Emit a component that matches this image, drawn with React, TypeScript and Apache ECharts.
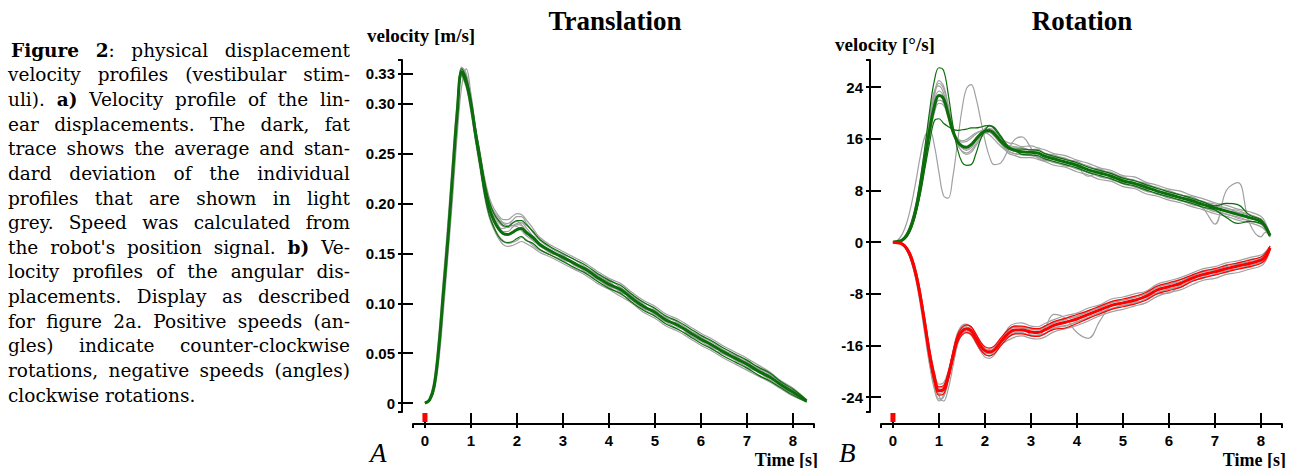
import React, { useEffect, useRef } from "react";
import * as echarts from "echarts";

// ---------- Data ----------
const xTicks = [0, 1, 2, 3, 4, 5, 6, 7, 8];
const yLeftTicks = [0, 0.05, 0.1, 0.15, 0.2, 0.25, 0.3, 0.33];
const yRightTicks = [-24, -16, -8, 0, 8, 16, 24];
const stimOnset = [0];

// Translation (m/s)
const tT = [0, 0.1, 0.2, 0.3, 0.4, 0.5, 0.6, 0.7, 0.8, 0.9, 1.0, 1.1, 1.2, 1.3, 1.4, 1.5, 1.6, 1.7, 1.8, 1.9, 2.0, 2.1, 2.2, 2.35, 2.5, 2.75, 3.0, 3.25, 3.5, 3.75, 4.0, 4.25, 4.5, 4.75, 5.0, 5.25, 5.5, 5.75, 6.0, 6.25, 6.5, 6.75, 7.0, 7.25, 7.5, 7.75, 8.0, 8.3];
const transMean = [0, 0.003, 0.017, 0.055, 0.11, 0.165, 0.228, 0.29, 0.332, 0.322, 0.3, 0.27, 0.243, 0.215, 0.195, 0.183, 0.175, 0.17, 0.169, 0.171, 0.174, 0.175, 0.171, 0.166, 0.159, 0.152, 0.146, 0.14, 0.134, 0.126, 0.119, 0.114, 0.105, 0.097, 0.091, 0.083, 0.078, 0.071, 0.064, 0.058, 0.051, 0.045, 0.039, 0.032, 0.026, 0.018, 0.011, 0.002];
const transUpper = [0, 0.004, 0.019, 0.058, 0.113, 0.168, 0.231, 0.293, 0.335, 0.326, 0.304, 0.275, 0.249, 0.222, 0.202, 0.19, 0.183, 0.178, 0.177, 0.18, 0.183, 0.183, 0.179, 0.172, 0.164, 0.156, 0.15, 0.144, 0.138, 0.13, 0.123, 0.118, 0.109, 0.101, 0.095, 0.087, 0.082, 0.075, 0.068, 0.062, 0.055, 0.049, 0.043, 0.036, 0.03, 0.021, 0.014, 0.003];
const transLower = [0, 0.002, 0.015, 0.052, 0.107, 0.162, 0.225, 0.287, 0.329, 0.318, 0.296, 0.265, 0.237, 0.208, 0.188, 0.176, 0.167, 0.162, 0.161, 0.162, 0.165, 0.167, 0.163, 0.16, 0.154, 0.148, 0.142, 0.136, 0.13, 0.122, 0.115, 0.11, 0.101, 0.093, 0.087, 0.079, 0.074, 0.067, 0.06, 0.054, 0.047, 0.041, 0.035, 0.028, 0.022, 0.015, 0.008, 0.001];
const transTrial1 = [0, 0.004, 0.019, 0.059, 0.114, 0.17, 0.233, 0.294, 0.336, 0.327, 0.303, 0.272, 0.247, 0.221, 0.203, 0.192, 0.186, 0.181, 0.18, 0.183, 0.187, 0.187, 0.181, 0.171, 0.163, 0.155, 0.149, 0.144, 0.136, 0.129, 0.124, 0.116, 0.108, 0.101, 0.094, 0.086, 0.081, 0.073, 0.067, 0.061, 0.053, 0.048, 0.042, 0.035, 0.029, 0.02, 0.013, 0.002];
const transTrial2 = [0, 0.002, 0.015, 0.051, 0.105, 0.16, 0.223, 0.286, 0.33, 0.319, 0.297, 0.266, 0.238, 0.21, 0.189, 0.177, 0.168, 0.163, 0.16, 0.161, 0.163, 0.166, 0.164, 0.158, 0.153, 0.148, 0.143, 0.135, 0.13, 0.124, 0.116, 0.109, 0.103, 0.094, 0.088, 0.081, 0.074, 0.068, 0.062, 0.054, 0.049, 0.043, 0.036, 0.031, 0.023, 0.016, 0.009, 0.001];
const transTrial3 = [0, 0.003, 0.018, 0.056, 0.111, 0.166, 0.229, 0.291, 0.333, 0.324, 0.301, 0.27, 0.244, 0.217, 0.197, 0.186, 0.178, 0.172, 0.172, 0.176, 0.179, 0.178, 0.173, 0.165, 0.157, 0.153, 0.144, 0.14, 0.134, 0.125, 0.12, 0.113, 0.104, 0.098, 0.09, 0.085, 0.076, 0.072, 0.063, 0.058, 0.05, 0.046, 0.038, 0.033, 0.025, 0.019, 0.01, 0.002];
const transTrial4 = [0, 0.002, 0.012, 0.042, 0.092, 0.148, 0.205, 0.268, 0.318, 0.335, 0.31, 0.276, 0.245, 0.214, 0.193, 0.182, 0.176, 0.175, 0.177, 0.181, 0.182, 0.179, 0.172, 0.163, 0.158, 0.15, 0.147, 0.138, 0.133, 0.127, 0.117, 0.113, 0.106, 0.095, 0.091, 0.082, 0.079, 0.069, 0.066, 0.056, 0.052, 0.044, 0.04, 0.032, 0.027, 0.017, 0.012, 0.002];
const transTrial5 = [0, 0.003, 0.017, 0.054, 0.109, 0.164, 0.227, 0.289, 0.331, 0.32, 0.298, 0.268, 0.242, 0.216, 0.198, 0.188, 0.181, 0.177, 0.176, 0.178, 0.18, 0.181, 0.176, 0.167, 0.16, 0.151, 0.147, 0.141, 0.131, 0.128, 0.121, 0.111, 0.107, 0.099, 0.089, 0.084, 0.078, 0.07, 0.065, 0.059, 0.05, 0.047, 0.04, 0.034, 0.027, 0.019, 0.011, 0.003];
const transTrial6 = [0, 0.004, 0.02, 0.06, 0.116, 0.172, 0.235, 0.296, 0.337, 0.33, 0.307, 0.277, 0.251, 0.225, 0.206, 0.195, 0.188, 0.184, 0.184, 0.187, 0.19, 0.189, 0.184, 0.175, 0.166, 0.158, 0.152, 0.146, 0.14, 0.132, 0.125, 0.12, 0.111, 0.103, 0.097, 0.089, 0.084, 0.077, 0.07, 0.064, 0.057, 0.051, 0.045, 0.038, 0.031, 0.022, 0.015, 0.003];
const transTrial7 = [0, 0.002, 0.014, 0.05, 0.103, 0.158, 0.221, 0.284, 0.327, 0.316, 0.293, 0.262, 0.234, 0.206, 0.186, 0.174, 0.165, 0.159, 0.157, 0.158, 0.16, 0.162, 0.16, 0.156, 0.151, 0.146, 0.14, 0.134, 0.128, 0.12, 0.114, 0.107, 0.1, 0.091, 0.085, 0.077, 0.072, 0.065, 0.058, 0.052, 0.045, 0.039, 0.033, 0.027, 0.021, 0.014, 0.007, 0.001];
const transTrial8 = [0, 0.005, 0.024, 0.068, 0.125, 0.182, 0.244, 0.302, 0.333, 0.318, 0.292, 0.264, 0.24, 0.217, 0.2, 0.19, 0.184, 0.18, 0.178, 0.178, 0.177, 0.173, 0.168, 0.163, 0.158, 0.15, 0.148, 0.139, 0.135, 0.126, 0.122, 0.112, 0.108, 0.096, 0.093, 0.082, 0.08, 0.068, 0.066, 0.055, 0.053, 0.043, 0.041, 0.031, 0.028, 0.017, 0.012, 0.002];

// Rotation (deg/s)
const tR = [0, 0.1, 0.2, 0.3, 0.4, 0.5, 0.6, 0.7, 0.8, 0.9, 1.0, 1.1, 1.2, 1.3, 1.4, 1.5, 1.6, 1.7, 1.8, 1.9, 2.0, 2.1, 2.2, 2.35, 2.5, 2.65, 2.8, 3.0, 3.15, 3.3, 3.5, 3.75, 4.0, 4.25, 4.5, 4.75, 5.0, 5.25, 5.5, 5.75, 6.0, 6.25, 6.5, 6.75, 7.0, 7.25, 7.5, 7.75, 8.0, 8.1, 8.2];
const ccwMean = [0, 0.1, 0.3, 1.0, 2.5, 5.0, 8.7, 13.0, 17.5, 21.0, 22.7, 22.2, 19.8, 17.2, 15.6, 14.9, 14.7, 15.1, 15.9, 16.7, 17.2, 17.3, 16.8, 15.6, 14.6, 14.2, 14.0, 13.9, 13.8, 13.3, 12.9, 12.4, 11.9, 11.2, 10.7, 10.2, 9.5, 9.1, 8.5, 7.9, 7.4, 6.9, 6.4, 5.8, 5.3, 4.8, 4.3, 3.8, 3.2, 2.4, 1.0];
const ccwHigh = [0, 0.1, 0.4, 1.3, 3.0, 5.8, 10.0, 15.0, 20.5, 25.0, 27.0, 26.6, 23.0, 18.2, 14.5, 12.4, 11.9, 12.0, 13.6, 15.8, 17.3, 18.0, 17.8, 16.4, 14.9, 14.4, 14.4, 14.3, 14.2, 13.7, 13.3, 12.8, 12.3, 11.6, 11.1, 10.6, 9.9, 9.5, 8.9, 8.3, 7.8, 7.3, 6.8, 6.2, 5.6, 6.0, 5.8, 4.2, 3.5, 2.6, 1.1];
const ccwLow = [0, 0.1, 0.3, 0.9, 2.2, 4.5, 7.6, 11.6, 15.5, 18.8, 19.1, 18.4, 17.9, 17.5, 17.3, 17.4, 17.5, 17.7, 17.7, 17.8, 18.0, 18.1, 17.6, 16.2, 14.8, 14.2, 13.6, 13.5, 13.4, 12.9, 12.5, 12.0, 11.5, 10.8, 10.3, 9.8, 9.1, 8.7, 8.1, 7.5, 7.0, 6.5, 6.0, 5.4, 5.0, 3.8, 2.9, 3.2, 2.9, 2.2, 0.9];
const ccwTrial1 = [0, 0.1, 0.4, 1.2, 2.8, 5.5, 9.5, 14.2, 19.0, 23.0, 25.0, 24.2, 21.3, 18.0, 15.8, 14.6, 14.2, 14.6, 15.6, 16.7, 17.6, 18.0, 17.5, 16.1, 15.4, 15.2, 14.8, 14.9, 14.6, 14.3, 13.7, 13.4, 12.7, 12.2, 11.5, 11.1, 10.3, 10.1, 9.3, 8.8, 8.2, 7.9, 7.2, 6.7, 6.1, 5.7, 5.1, 4.7, 4.0, 3.0, 1.2];
const ccwTrial2 = [0, 0.1, 0.3, 0.9, 2.3, 4.7, 8.3, 12.6, 17.0, 20.4, 22.0, 21.6, 19.5, 17.0, 15.4, 14.6, 14.4, 14.9, 15.7, 16.4, 16.9, 17.0, 16.5, 15.3, 13.8, 13.4, 13.1, 13.1, 12.8, 12.5, 11.9, 11.6, 10.9, 10.4, 9.7, 9.4, 8.6, 8.3, 7.5, 7.1, 6.5, 6.1, 5.5, 5.0, 4.4, 4.0, 3.4, 3.0, 2.4, 1.8, 0.8];
const ccwTrial3 = [0, 0.2, 0.5, 1.4, 3.2, 6.0, 10.0, 14.8, 19.6, 23.4, 24.2, 23.1, 20.4, 17.3, 15.1, 14.1, 13.8, 14.2, 15.2, 16.3, 17.2, 17.6, 17.2, 15.9, 15.0, 14.8, 14.6, 14.3, 14.4, 13.7, 13.5, 12.8, 12.5, 11.6, 11.3, 10.6, 10.1, 9.5, 9.1, 8.3, 8.0, 7.3, 7.0, 6.2, 5.9, 5.2, 4.9, 4.2, 3.6, 2.7, 1.1];
const ccwTrial4 = [0, 0.1, 0.3, 1.0, 2.6, 5.2, 9.0, 13.6, 18.3, 22.0, 23.4, 22.6, 20.0, 17.4, 16.0, 15.5, 15.6, 16.1, 16.7, 17.2, 17.4, 17.1, 16.4, 15.2, 14.2, 13.7, 13.6, 13.5, 13.2, 12.9, 12.3, 12.0, 11.3, 10.8, 10.1, 9.7, 9.0, 8.6, 7.9, 7.5, 6.8, 6.5, 5.8, 5.4, 4.7, 4.4, 3.7, 3.3, 2.8, 2.0, 0.9];
const ccwTrial5 = [0, 0.1, 0.3, 1.1, 2.7, 5.4, 9.2, 13.9, 18.7, 22.5, 24.6, 23.8, 20.9, 17.6, 15.3, 14.0, 13.6, 13.9, 14.9, 16.0, 16.8, 17.2, 16.9, 15.8, 14.9, 14.6, 14.6, 14.2, 14.3, 13.8, 13.2, 12.9, 12.3, 11.8, 11.0, 10.8, 9.9, 9.6, 8.8, 8.5, 7.7, 7.4, 6.7, 6.3, 5.6, 5.3, 4.6, 4.3, 3.5, 2.6, 1.1];
const ccwTrial6 = [0, 0.1, 0.2, 0.8, 2.1, 4.4, 7.9, 12.2, 16.6, 20.0, 21.5, 21.2, 19.4, 17.3, 16.1, 15.7, 15.9, 16.4, 16.9, 17.1, 17.0, 16.6, 15.9, 14.8, 14.0, 13.7, 13.5, 13.4, 13.1, 12.7, 12.4, 11.8, 11.5, 10.7, 10.3, 9.7, 9.2, 8.6, 8.1, 7.4, 7.1, 6.4, 6.1, 5.3, 4.9, 4.3, 3.9, 3.3, 2.8, 2.1, 0.8];
const ccwOutlier = [0, 0.3, 1.2, 3.0, 5.8, 9.5, 13.5, 16.5, 17.3, 15.0, 10.8, 7.2, 6.8, 10.0, 15.2, 20.5, 23.8, 24.4, 22.5, 19.2, 15.8, 13.2, 12.0, 12.3, 14.2, 15.9, 16.3, 14.6, 13.0, 12.6, 13.2, 13.0, 11.8, 10.2, 10.8, 10.0, 9.6, 8.9, 8.6, 7.8, 7.4, 6.8, 6.5, 5.2, 2.8, 8.0, 9.2, 3.0, 0.8, 1.5, 1.2];

const cwMean = [0, -0.1, -0.3, -1.0, -2.5, -5.0, -8.6, -13.0, -17.5, -21.0, -23.0, -22.8, -20.8, -17.8, -15.0, -13.8, -13.4, -13.7, -14.8, -16.0, -16.8, -17.0, -16.7, -15.4, -14.2, -13.6, -13.6, -13.9, -14.0, -13.6, -12.9, -12.4, -11.9, -11.2, -10.5, -9.8, -9.4, -9.0, -8.4, -7.4, -6.9, -6.4, -5.6, -5.0, -4.6, -4.1, -3.7, -3.3, -2.8, -2.2, -0.9];
const cwUpper = [0, -0.1, -0.2, -0.8, -2.1, -4.5, -8.0, -12.3, -16.8, -20.3, -22.4, -22.2, -20.2, -17.2, -14.4, -13.2, -12.8, -13.1, -14.2, -15.4, -16.2, -16.4, -16.1, -14.8, -13.6, -13.0, -13.0, -13.3, -13.4, -13.0, -12.3, -11.8, -11.2, -10.6, -9.9, -9.2, -8.8, -8.4, -7.8, -6.8, -6.3, -5.8, -5.1, -4.5, -4.1, -3.6, -3.2, -2.8, -2.3, -1.7, -0.6];
const cwLower = [0, -0.1, -0.4, -1.2, -2.9, -5.5, -9.2, -13.7, -18.2, -21.7, -23.7, -23.5, -21.4, -18.4, -15.6, -14.4, -14.0, -14.3, -15.4, -16.6, -17.4, -17.6, -17.3, -16.0, -14.8, -14.2, -14.2, -14.5, -14.6, -14.2, -13.5, -13.3, -12.6, -11.8, -11.1, -10.4, -10.0, -9.6, -9.0, -8.0, -7.5, -7.0, -6.1, -5.5, -5.1, -4.6, -4.2, -3.8, -3.3, -2.7, -1.2];
const cwTrial1 = [0, -0.1, -0.4, -1.2, -3.0, -5.7, -9.6, -14.2, -18.8, -22.4, -24.3, -24.0, -21.6, -18.2, -15.2, -13.6, -12.9, -13.1, -14.1, -15.4, -16.5, -17.0, -16.8, -15.6, -13.3, -12.6, -12.5, -13.0, -13.1, -12.6, -12.0, -11.4, -11.0, -10.2, -9.7, -8.8, -8.5, -8.0, -7.6, -6.5, -6.0, -5.5, -4.8, -4.1, -3.8, -3.2, -2.9, -2.4, -2.0, -1.5, -0.6];
const cwTrial2 = [0, -0.1, -0.2, -0.8, -2.0, -4.3, -7.7, -12.0, -16.5, -20.0, -22.0, -21.8, -20.0, -17.2, -14.7, -13.6, -13.5, -14.1, -15.4, -16.8, -17.8, -18.0, -17.5, -15.9, -15.2, -14.7, -14.5, -14.9, -15.0, -14.7, -13.9, -13.4, -12.9, -12.2, -11.4, -10.8, -10.4, -9.9, -9.4, -8.4, -7.8, -7.4, -6.6, -5.9, -5.6, -5.0, -4.7, -4.2, -3.7, -3.0, -1.2];
const cwTrial3 = [0, -0.1, -0.3, -1.1, -2.7, -5.3, -9.0, -13.5, -18.0, -21.6, -23.5, -23.0, -20.6, -17.3, -14.6, -13.3, -13.1, -13.6, -14.9, -16.2, -17.1, -17.3, -16.9, -15.5, -13.7, -13.0, -13.2, -13.3, -13.6, -13.0, -12.5, -11.8, -11.5, -10.6, -10.1, -9.2, -9.0, -8.4, -8.0, -6.8, -6.5, -5.8, -5.2, -4.4, -4.2, -3.5, -3.3, -2.7, -2.4, -1.7, -0.7];
const cwTrial4 = [0, -0.1, -0.3, -1.0, -2.4, -4.9, -8.4, -12.8, -17.4, -21.2, -23.8, -24.6, -22.8, -19.4, -16.0, -14.2, -13.8, -14.2, -15.0, -16.0, -16.6, -16.8, -16.5, -15.3, -14.7, -14.2, -14.0, -14.5, -14.4, -14.2, -13.3, -13.0, -12.3, -11.8, -10.9, -10.4, -9.8, -9.6, -8.8, -8.0, -7.3, -7.0, -6.0, -5.6, -5.0, -4.7, -4.1, -3.9, -3.2, -2.6, -1.0];
const cwTrial5 = [0, -0.1, -0.3, -0.9, -2.3, -4.7, -8.1, -12.5, -17.0, -20.6, -22.6, -22.4, -20.4, -17.6, -15.1, -14.0, -13.9, -14.4, -15.6, -16.7, -17.2, -17.2, -16.8, -15.6, -14.6, -14.0, -14.1, -14.4, -14.4, -14.1, -13.3, -12.9, -12.4, -11.6, -10.9, -10.3, -9.8, -9.4, -8.9, -7.8, -7.3, -6.8, -6.0, -5.4, -5.0, -4.4, -4.1, -3.6, -3.1, -2.4, -1.0];
const cwTrial6 = [0, -0.1, -0.4, -1.3, -3.1, -5.9, -9.9, -14.6, -19.2, -22.8, -24.6, -23.7, -20.8, -17.0, -14.1, -12.9, -12.7, -13.4, -14.6, -15.8, -16.5, -16.6, -16.2, -15.0, -13.8, -13.2, -13.3, -13.5, -13.6, -13.2, -12.5, -12.0, -11.5, -10.8, -10.1, -9.4, -9.0, -8.6, -8.0, -7.0, -6.5, -6.1, -5.3, -4.6, -4.3, -3.8, -3.4, -3.0, -2.6, -2.0, -0.8];
const cwOutlier = [0, -0.1, -0.3, -1.1, -2.6, -5.1, -8.8, -13.2, -17.8, -21.3, -23.2, -23.0, -21.0, -18.0, -15.2, -13.9, -13.6, -14.0, -15.2, -16.5, -17.4, -17.6, -17.0, -15.2, -13.6, -13.0, -13.1, -14.4, -14.6, -13.4, -11.2, -11.8, -14.0, -14.9, -12.2, -9.8, -9.4, -9.3, -8.2, -8.0, -7.9, -6.5, -5.3, -5.2, -4.4, -4.2, -3.5, -3.4, -2.7, -2.1, -0.9];

const captionLines = [
  "**Figure 2**: physical displacement",
  "velocity profiles (vestibular stim-",
  "uli). **a)** Velocity profile of the lin-",
  "ear displacements. The dark, fat",
  "trace shows the average and stan-",
  "dard deviation of the individual",
  "profiles that are shown in light",
  "grey. Speed was calculated from",
  "the robot's position signal. **b)** Ve-",
  "locity profiles of the angular dis-",
  "placements. Display as described",
  "for figure 2a. Positive speeds (an-",
  "gles) indicate counter-clockwise",
  "rotations, negative speeds (angles)",
  "clockwise rotations.",
];

// ---------- Styling / layout ----------
const X_MIN = -0.26, X_MAX = 8.46;
const YL_MIN = -0.009, YL_MAX = 0.344;
const YR_MIN = -26.3, YR_MAX = 28.2;
const GREEN = "#0b6e0b";
const GREY = "#a0a0a0";
const RED = "#ff0000";
const SANS = '"Liberation Sans", Arial, sans-serif';
const SERIF = '"Liberation Serif", "Times New Roman", serif';
const CAP_FONT = '"DejaVu Serif", serif';

const lineStyleAxis = { color: "#000", width: 2 };

function mainX(grid: number) {
  return {
    type: "value", gridIndex: grid, min: X_MIN, max: X_MAX, position: "bottom", offset: 12,
    axisLine: { show: true, onZero: false, lineStyle: lineStyleAxis },
    axisTick: { show: true, inside: true, length: 11, customValues: xTicks, lineStyle: lineStyleAxis },
    axisLabel: { show: true, customValues: xTicks, margin: 9, color: "#000", fontFamily: SANS, fontWeight: "bold", fontSize: 15, formatter: (v: number) => String(v) },
    splitLine: { show: false },
  };
}
function overlayX(grid: number) {
  return {
    type: "value", gridIndex: grid, min: X_MIN, max: X_MAX, position: "bottom", offset: 12,
    axisLine: { show: false, onZero: false },
    axisTick: { show: true, inside: false, length: 4, customValues: [X_MIN, ...xTicks, X_MAX], lineStyle: lineStyleAxis },
    axisLabel: { show: false },
    splitLine: { show: false },
  };
}
function mainY(grid: number, min: number, max: number, ticks: number[], fmt: (v: number) => string) {
  return {
    type: "value", gridIndex: grid, min, max, position: "left", offset: 11,
    axisLine: { show: true, onZero: false, lineStyle: lineStyleAxis },
    axisTick: { show: true, inside: true, length: 11, customValues: ticks, lineStyle: lineStyleAxis },
    axisLabel: { show: true, customValues: ticks, margin: 7, color: "#000", fontFamily: SANS, fontWeight: "bold", fontSize: 15, formatter: fmt },
    splitLine: { show: false },
  };
}
function overlayY(grid: number, min: number, max: number, ticks: number[]) {
  return {
    type: "value", gridIndex: grid, min, max, position: "left", offset: 11,
    axisLine: { show: false, onZero: false },
    axisTick: { show: true, inside: false, length: 4, customValues: [min, ...ticks, max], lineStyle: lineStyleAxis },
    axisLabel: { show: false },
    splitLine: { show: false },
  };
}

function line(axis: number, t: number[], vals: number[], color: string, width: number, z: number) {
  return {
    type: "line", xAxisIndex: axis, yAxisIndex: axis,
    data: t.map((tt, i) => [tt, vals[i]]),
    showSymbol: false, symbol: "none", smooth: 0.4,
    lineStyle: { color, width }, silent: true, z, animation: false,
  };
}

function marker(axis: number, yMin: number) {
  return {
    type: "custom", xAxisIndex: axis, yAxisIndex: axis, clip: false, silent: true, z: 10,
    data: stimOnset.map((t) => [t, yMin]),
    renderItem: (_p: any, api: any) => {
      const p = api.coord([api.value(0), api.value(1)]);
      return { type: "rect", shape: { x: p[0] - 2.5, y: p[1] + 1, width: 5, height: 9 }, style: { fill: RED } };
    },
  };
}

function txt(text: string, x: number, y: number, font: string, align = "left") {
  return {
    type: "text", x, y, silent: true,
    style: { text, font, fill: "#000", textAlign: align, align, textVerticalAlign: "middle", verticalAlign: "middle" },
  };
}

function captionGraphics() {
  const canvas = document.createElement("canvas");
  const ctx = canvas.getContext("2d")!;
  const size = 18.5, right = 350, base0 = 56.5, lh = 24.64;
  const font = (b: boolean) => `${b ? "bold " : ""}${size}px ${CAP_FONT}`;
  const els: any[] = [];
  let bold = false;
  captionLines.forEach((ln, li) => {
    const words = ln.split(" ").map((w) => {
      const parts = w.split("**");
      const segs: { text: string; bold: boolean }[] = [];
      parts.forEach((p, k) => { if (k > 0) bold = !bold; if (p) segs.push({ text: p, bold }); });
      return segs;
    });
    const widths = words.map((segs) => segs.map((s) => { ctx.font = font(s.bold); return ctx.measureText(s.text).width; }));
    const wordW = widths.map((ws) => ws.reduce((a, b) => a + b, 0));
    const total = wordW.reduce((a, b) => a + b, 0);
    const left = li === 0 ? 11 : 8;
    ctx.font = font(false);
    const space = ctx.measureText(" ").width;
    const last = li === captionLines.length - 1;
    const gap = last || words.length < 2 ? space : (right - left - total) / (words.length - 1);
    const y = base0 + li * lh - 0.34 * size;
    let x = left;
    words.forEach((segs, wi) => {
      let sx = x;
      segs.forEach((s, si) => { els.push(txt(s.text, sx, y, font(s.bold))); sx += widths[wi][si]; });
      x += wordW[wi] + gap;
    });
  });
  return els;
}

function buildOption() {
  const fmtL = (v: number) => (v === 0 ? "0" : v.toFixed(2));
  const fmtR = (v: number) => String(Math.round(v));
  const gw = 1.2;
  return {
    animation: false,
    backgroundColor: "#ffffff",
    grid: [
      { left: 413, top: 60, width: 401, height: 352 },
      { left: 881, top: 60, width: 401, height: 352 },
    ],
    xAxis: [mainX(0), overlayX(0), mainX(1), overlayX(1)],
    yAxis: [
      mainY(0, YL_MIN, YL_MAX, yLeftTicks, fmtL), overlayY(0, YL_MIN, YL_MAX, yLeftTicks),
      mainY(1, YR_MIN, YR_MAX, yRightTicks, fmtR), overlayY(1, YR_MIN, YR_MAX, yRightTicks),
    ],
    series: [
      ...[transTrial1, transTrial2, transTrial3, transTrial4, transTrial5, transTrial6, transTrial7, transTrial8].map((v) => line(0, tT, v, GREY, gw, 1)),
      line(0, tT, transUpper, GREEN, 1.2, 2),
      line(0, tT, transLower, GREEN, 1.2, 2),
      line(0, tT, transMean, GREEN, 3, 3),
      marker(0, YL_MIN),

      ...[ccwTrial1, ccwTrial2, ccwTrial3, ccwTrial4, ccwTrial5, ccwTrial6, ccwOutlier,
          cwTrial1, cwTrial2, cwTrial3, cwTrial4, cwTrial5, cwTrial6, cwOutlier].map((v) => line(2, tR, v, GREY, gw, 1)),
      line(2, tR, ccwHigh, GREEN, 1.2, 2),
      line(2, tR, ccwLow, GREEN, 1.2, 2),
      line(2, tR, cwUpper, RED, 1.2, 2),
      line(2, tR, cwLower, RED, 1.2, 2),
      line(2, tR, ccwMean, GREEN, 3, 3),
      line(2, tR, cwMean, RED, 3, 3),
      marker(2, YR_MIN),
    ],
    graphic: [
      txt("Translation", 615, 20.8, `bold 27px ${SERIF}`, "center"),
      txt("Rotation", 1082, 20.8, `bold 27px ${SERIF}`, "center"),
      txt("velocity [m/s]", 367, 35, `bold 19px ${SERIF}`),
      txt("velocity [°/s]", 835, 44, `bold 19px ${SERIF}`),
      txt("A", 370, 453, `italic 27px ${SERIF}`),
      txt("B", 839, 453, `italic 27px ${SERIF}`),
      txt("Time [s]", 818, 459.5, `bold 18px ${SERIF}`, "right"),
      txt("Time [s]", 1286, 459.5, `bold 18px ${SERIF}`, "right"),
      ...captionGraphics(),
    ],
  };
}

export default function App() {
  const ref = useRef<HTMLDivElement>(null);
  useEffect(() => {
    if (!ref.current) return;
    const chart = echarts.init(ref.current, null, { renderer: "svg", width: 1296, height: 468 });
    chart.setOption(buildOption() as any);
    return () => chart.dispose();
  }, []);
  return <div ref={ref} style={{ position: "absolute", left: 0, top: 0, width: 1296, height: 468, background: "#fff" }} />;
}
